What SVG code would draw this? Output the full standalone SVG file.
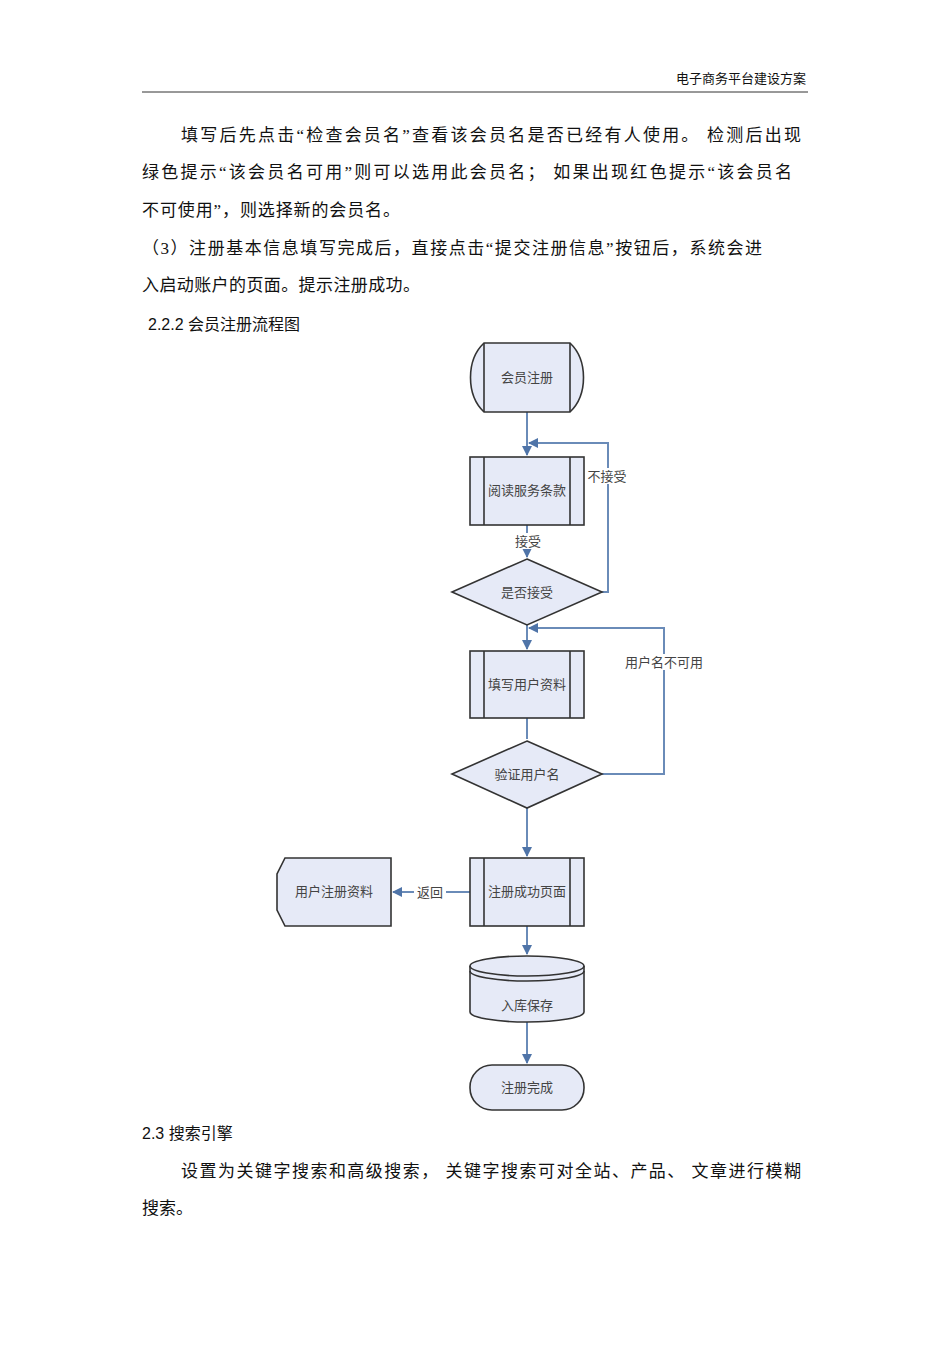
<svg xmlns="http://www.w3.org/2000/svg" width="950" height="1345" viewBox="0 0 950 1345">
<defs>
<style>
.t{font-family:"Liberation Serif","Noto Sans CJK SC",serif;fill:#111;font-size:17px}
.h{font-family:"Liberation Sans","Noto Sans CJK SC",sans-serif;fill:#111;font-size:17px}
.n{fill:#e6eaf7;stroke:#333;stroke-width:1.6}
.nl{fill:none;stroke:#333;stroke-width:1.6}
.lb{font-family:"Liberation Serif","Noto Sans CJK SC",serif;fill:#444;font-size:13px;text-anchor:middle}
.c{fill:none;stroke:#6a8bb8;stroke-width:2}
</style>
<marker id="a" viewBox="0 0 10 10" refX="9" refY="5" markerWidth="5" markerHeight="5" orient="auto-start-reverse"><path d="M0,0L10,5L0,10z" fill="#4f74a8"/></marker>
</defs>
<rect width="950" height="1345" fill="#fff"/>
<text x="806" y="83" class="t" text-anchor="end" style="font-size:13px">电子商务平台建设方案</text>
<line x1="142" y1="92" x2="808" y2="92" stroke="#333" stroke-width="1"/>
<text x="181" y="141" class="t" textLength="620" lengthAdjust="spacing">填写后先点击“检查会员名”查看该会员名是否已经有人使用。     检测后出现</text>
<text x="142" y="178" class="t" textLength="650" lengthAdjust="spacing">绿色提示“该会员名可用”则可以选用此会员名；     如果出现红色提示“该会员名</text>
<text x="142" y="216" class="t" textLength="258" lengthAdjust="spacing">不可使用”，则选择新的会员名。</text>
<text x="142" y="254" class="t" textLength="620" lengthAdjust="spacing">（3）注册基本信息填写完成后，直接点击“提交注册信息”按钮后，系统会进</text>
<text x="142" y="291" class="t" textLength="278" lengthAdjust="spacing">入启动账户的页面。提示注册成功。</text>
<text x="148" y="330" class="h" style="font-size:16px">2.2.2  会员注册流程图</text>
<g id="connectors">
<line x1="527" y1="412" x2="527" y2="455" class="c" marker-end="url(#a)"/>
<line x1="527" y1="525" x2="527" y2="557" class="c" marker-end="url(#a)"/>
<polyline points="602,592 608,592 608,443 529,443" class="c" marker-end="url(#a)"/>
<line x1="527" y1="625" x2="527" y2="649" class="c" marker-end="url(#a)"/>
<polyline points="602,774 664,774 664,628 529,628" class="c" marker-end="url(#a)"/>
<line x1="527" y1="718" x2="527" y2="739" class="c"/>
<line x1="527" y1="808" x2="527" y2="856" class="c" marker-end="url(#a)"/>
<line x1="470" y1="892" x2="393" y2="892" class="c" marker-end="url(#a)"/>
<line x1="527" y1="926" x2="527" y2="954" class="c" marker-end="url(#a)"/>
<line x1="527" y1="1022" x2="527" y2="1063" class="c" marker-end="url(#a)"/>
<rect x="514" y="533" width="28" height="16" fill="#fff"/>
<text x="528" y="546" class="lb">接受</text>
<rect x="587" y="468" width="40" height="16" fill="#fff"/>
<text x="607" y="481" class="lb">不接受</text>
<rect x="624" y="654" width="80" height="16" fill="#fff"/>
<text x="664" y="667" class="lb">用户名不可用</text>
<rect x="414" y="884" width="32" height="16" fill="#fff"/>
<text x="430" y="897" class="lb">返回</text>
</g>
<g id="start"><path d="M484,343H570C588,360 588,395 570,412H484C466,395 466,360 484,343z" class="n"/><line x1="484" y1="343" x2="484" y2="412" class="nl"/><line x1="570" y1="343" x2="570" y2="412" class="nl"/><text x="527" y="382" class="lb">会员注册</text></g>
<g id="read"><rect x="470" y="457" width="114" height="68" class="n"/><line x1="484" y1="457" x2="484" y2="525" class="nl"/><line x1="570" y1="457" x2="570" y2="525" class="nl"/><text x="527" y="495" class="lb">阅读服务条款</text></g>
<g id="accept"><path d="M527,559L602,592L527,625L452,592z" class="n"/><text x="527" y="597" class="lb">是否接受</text></g>
<g id="fill"><rect x="470" y="651" width="114" height="67" class="n"/><line x1="484" y1="651" x2="484" y2="718" class="nl"/><line x1="570" y1="651" x2="570" y2="718" class="nl"/><text x="527" y="689" class="lb">填写用户资料</text></g>
<g id="verify"><path d="M527,741L602,774L527,808L452,774z" class="n"/><text x="527" y="779" class="lb">验证用户名</text></g>
<g id="success"><rect x="470" y="858" width="114" height="68" class="n"/><line x1="484" y1="858" x2="484" y2="926" class="nl"/><line x1="570" y1="858" x2="570" y2="926" class="nl"/><text x="527" y="896" class="lb">注册成功页面</text></g>
<g id="userdata"><path d="M285,858H391V926H285L277,910V874z" class="n"/><text x="334" y="896" class="lb">用户注册资料</text></g>
<g id="db"><path d="M470,966V1012A57,10 0 0 0 584,1012V966A57,10 0 0 0 470,966z" class="n"/><path d="M470,966A57,10 0 0 0 584,966" class="nl"/><path d="M470,971A57,10 0 0 0 584,971" class="nl"/><text x="527" y="1010" class="lb">入库保存</text></g>
<g id="end"><rect x="470" y="1065" width="114" height="45" rx="22" class="n"/><text x="527" y="1092" class="lb">注册完成</text></g>
<text x="142" y="1139" class="h" style="font-size:16px">2.3  搜索引擎</text>
<text x="181" y="1177" class="t" textLength="620" lengthAdjust="spacing">设置为关键字搜索和高级搜索，    关键字搜索可对全站、产品、   文章进行模糊</text>
<text x="142" y="1214" class="t">搜索。</text>
</svg>
